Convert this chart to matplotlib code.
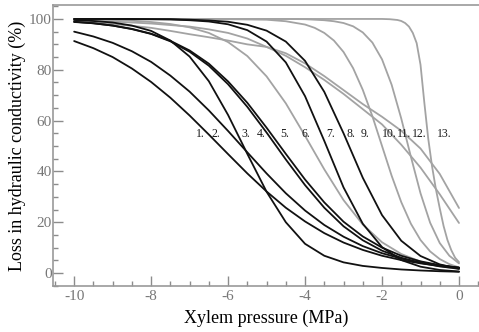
import matplotlib
matplotlib.use('Agg')
import matplotlib.pyplot as plt
from matplotlib.ticker import MultipleLocator

plt.rcParams['font.family'] = ['Liberation Serif', 'DejaVu Serif']
plt.rcParams['axes.unicode_minus'] = False

# xylem pressure sample points (MPa)
p_half = [-10, -9.5, -9, -8.5, -8, -7.5, -7, -6.5, -6, -5.5, -5,
          -4.5, -4, -3.5, -3, -2.5, -2, -1.5, -1, -0.5, 0]
p_quarter = [-10, -9, -8, -7, -6, -5, -4.5, -4, -3.75, -3.5, -3.25, -3,
             -2.75, -2.5, -2.25, -2, -1.75, -1.5, -1.25, -1, -0.75, -0.5, -0.25, 0]
p_steep = [-10, -8, -6, -4, -3, -2.5, -2, -1.8, -1.6, -1.5, -1.4, -1.3, -1.2,
           -1.1, -1.0, -0.9, -0.8, -0.7, -0.6, -0.5, -0.4, -0.3, -0.2, -0.1, 0]

# loss in hydraulic conductivity (%) - black curves
black_1 = [91.3, 88.5, 85.0, 80.5, 75.2, 69.0, 62.0, 54.5, 46.8, 39.2, 32.1,
           25.7, 20.3, 15.7, 12.0, 9.1, 6.8, 5.1, 3.8, 2.8, 2.1]
black_2 = [95.0, 93.1, 90.6, 87.3, 83.1, 77.7, 71.4, 64.0, 55.9, 47.5, 39.2,
           31.4, 24.6, 18.9, 14.3, 10.6, 7.8, 5.7, 4.1, 3.0, 2.1]
black_3 = [99.6, 99.2, 98.6, 97.4, 95.3, 91.5, 85.2, 75.5, 62.2, 46.9, 32.0,
           20.0, 11.5, 6.8, 4.2, 2.8, 2.0, 1.4, 1.0, 0.7, 0.5]
black_4 = [98.9, 98.3, 97.4, 96.0, 94.1, 91.2, 87.1, 81.6, 74.3, 65.4, 55.3,
           44.7, 34.6, 25.7, 18.4, 12.9, 8.8, 6.0, 4.0, 2.6, 1.7]
black_5 = [98.8, 98.3, 97.4, 96.1, 94.2, 91.4, 87.6, 82.4, 75.4, 67.0, 57.2,
           46.9, 36.8, 27.8, 20.2, 14.4, 10.0, 6.8, 4.6, 3.1, 2.1]
black_6 = [100.0, 100.0, 100.0, 99.9, 99.9, 99.8, 99.5, 99.0, 97.9, 95.6, 91.1,
           82.9, 69.6, 52.0, 33.7, 19.4, 10.2, 5.1, 2.5, 1.2, 0.6]
black_7 = [100.0, 100.0, 100.0, 100.0, 99.9, 99.9, 99.7, 99.4, 98.9, 97.7, 95.4,
           91.1, 83.5, 71.3, 55.0, 37.5, 22.8, 12.7, 6.7, 3.4, 1.7]

# grey curves
grey_a = [99.9, 99.8, 99.6, 99.3, 98.8, 98.0, 96.7, 94.5, 90.9, 85.4, 77.4,
          66.8, 54.0, 40.8, 28.7, 19.1, 12.1, 7.5, 4.5, 2.7, 1.6]
grey_flat_1 = [99.5, 99.3, 99.0, 98.6, 98.2, 97.6, 97.0, 95.9, 94.5, 92.3, 89.0,
               85.5, 81.0, 76.0, 70.5, 64.5, 58.5, 50.5, 41.5, 31.0, 19.7]
grey_flat_2 = [99.0, 98.6, 98.0, 97.3, 96.5, 95.3, 94.0, 92.8, 91.5, 90.0, 89.0,
               86.5, 82.5, 77.5, 72.0, 66.5, 61.5, 56.0, 49.0, 39.0, 25.6]
grey_b = [100.0, 100.0, 100.0, 100.0, 99.9, 99.7, 99.1, 97.8, 96.5, 94.5, 91.5, 87.0,
          80.6, 72.1, 61.7, 50.0, 38.3, 27.9, 19.4, 13.0, 8.5, 5.5, 3.5, 2.2]
grey_d = [100.0, 100.0, 100.0, 100.0, 100.0, 100.0, 100.0, 99.9, 99.7, 99.5, 99.1, 98.4,
          97.1, 94.7, 90.7, 84.1, 74.1, 60.8, 45.8, 31.4, 19.8, 11.8, 6.8, 3.8]
grey_13 = [100.0, 100.0, 100.0, 100.0, 100.0, 100.0, 100.0, 99.9, 99.6, 99.2, 98.4, 97.0,
           94.5, 90.5, 82.0, 67.0, 53.0, 42.0, 33.0, 25.5, 18.5, 13.0, 9.0, 6.0, 4.3]

# curve numbers written across the plot
curve_labels = ['1.', '2.', '3.', '4.', '5.', '6.', '7.', '8.', '9.', '10.', '11.', '12.', '13.']
label_p = [-6.83, -6.42, -5.64, -5.25, -4.65, -4.08, -3.45, -2.93, -2.55, -2.0, -1.61, -1.22, -0.57]
label_plc = 54.7

grey = '#a3a3a3'
black = '#111111'
axis_grey = '#8c8c8c'

fig = plt.figure(figsize=(4.79, 3.32), dpi=100)
ax = fig.add_axes([0.1106, 0.1386, 0.8894, 0.8464])

grey_curves = [(p_half, grey_a), (p_half, grey_flat_1), (p_half, grey_flat_2),
               (p_quarter, grey_b), (p_quarter, grey_d), (p_steep, grey_13)]
for p, v in grey_curves:
    ax.plot(p, v, color=grey, lw=1.3, solid_capstyle='round')

for v in [black_1, black_2, black_3, black_4, black_5, black_6, black_7]:
    ax.plot(p_half, v, color=black, lw=1.3, solid_capstyle='round')

for txt, p in zip(curve_labels, label_p):
    ax.text(p, label_plc, txt, fontsize=8.5, ha='left', va='center', color='#1a1a1a')

ax.set_xlim(-10.55, 0.52)
ax.set_ylim(-5.1, 105.5)
ax.xaxis.set_major_locator(MultipleLocator(2))
ax.xaxis.set_minor_locator(MultipleLocator(0.5))
ax.yaxis.set_major_locator(MultipleLocator(20))
ax.yaxis.set_minor_locator(MultipleLocator(5))
ax.tick_params(which='both', direction='in', color=axis_grey, labelcolor='#777777',
               labelsize=11, top=False, right=False)
ax.tick_params(which='major', length=7, width=1)
ax.tick_params(which='minor', length=3.5, width=1)
ax.tick_params(axis='y', pad=1)
ax.tick_params(axis='x', pad=3)

for s in ax.spines.values():
    s.set_color('#9a9a9a')
    s.set_linewidth(1.2)
ax.spines['right'].set_visible(False)

ax.set_xlabel('Xylem pressure (MPa)', fontsize=13, labelpad=5)
ax.set_ylabel('Loss in hydraulic conductivity (%)', fontsize=13, labelpad=2)

plt.savefig('out.png', dpi=100)
